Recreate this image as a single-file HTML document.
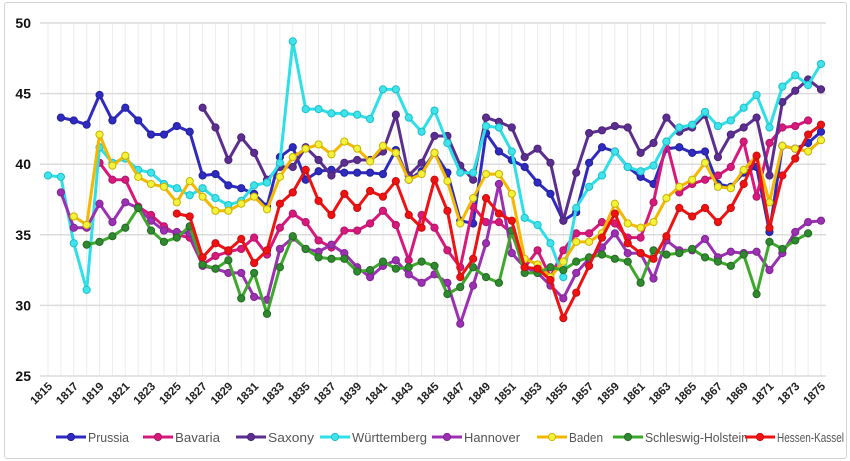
<!DOCTYPE html>
<html><head><meta charset="utf-8">
<style>
html,body{margin:0;padding:0;background:#fff;}
body{width:850px;height:461px;overflow:hidden;font-family:"Liberation Sans",sans-serif;}
#frame{position:absolute;left:4px;top:2px;width:841px;height:455px;border:1px solid #d4d4d4;border-radius:3px;}
svg{position:absolute;left:0;top:0;}
</style></head>
<body>
<div id="frame"></div>
<svg id="chart" width="850" height="461"></svg>
<script>
const years = [];
for (let y = 1815; y <= 1875; y++) years.push(y);
const yTicks = [25, 30, 35, 40, 45, 50];
const seriesNames = ["Prussia","Bavaria","Saxony","Württemberg","Hannover","Baden","Schleswig-Holstein","Hessen-Kassel"];
const N = null;
const prussia = [N,43.3,43.1,42.8,44.9,43.1,44.0,43.1,42.1,42.1,42.7,42.3,39.2,39.3,38.5,38.3,37.9,37.0,40.5,41.2,38.9,39.5,39.6,39.4,39.4,39.4,39.3,41.0,38.9,39.5,40.8,39.4,36.0,35.8,42.2,40.9,40.3,39.8,38.7,37.9,36.0,36.6,40.1,41.2,40.9,39.8,39.1,38.6,41.1,41.2,40.8,40.9,38.6,38.4,39.4,39.8,35.2,41.3,41.1,41.5,42.3];
const bavaria = [N,N,N,N,40.1,38.9,38.9,37.0,36.4,35.6,35.0,34.8,32.9,33.5,33.8,34.0,34.8,33.6,35.5,36.5,35.9,34.6,34.1,35.3,35.3,35.8,36.7,35.7,33.2,36.4,35.5,33.9,32.7,37.0,35.9,35.9,35.1,32.7,33.9,32.0,33.9,35.1,35.1,35.9,35.8,34.8,34.8,37.3,41.6,38.0,38.6,38.9,39.2,39.8,41.6,37.7,41.5,42.6,42.7,43.1,N];
const saxony = [N,N,N,N,N,N,N,N,N,N,N,N,44.0,42.6,40.3,41.9,40.8,38.9,39.8,39.8,41.2,40.3,39.2,40.1,40.3,40.3,40.9,43.5,39.2,40.1,42.0,42.0,39.9,38.9,43.3,43.0,42.6,40.5,41.1,40.1,36.0,39.4,42.2,42.4,42.7,42.6,40.8,41.5,43.3,42.3,42.6,43.5,40.5,42.1,42.6,43.3,39.2,44.4,45.2,46.0,45.3];
const wurttemberg = [39.2,39.1,34.4,31.1,41.2,40.1,40.4,39.6,39.4,38.6,38.3,37.8,38.3,37.6,37.1,37.4,38.5,38.7,40.1,48.7,43.9,43.9,43.6,43.6,43.5,43.2,45.3,45.3,43.3,42.3,43.8,41.5,39.4,39.4,42.7,42.6,40.9,36.2,35.7,34.4,32.0,36.9,38.4,39.2,40.9,39.8,39.5,39.9,41.6,42.6,42.8,43.7,42.7,43.1,44.0,44.9,42.6,45.5,46.3,45.6,47.1];
const hannover = [N,38.0,35.5,35.5,37.2,35.9,37.3,36.9,36.0,35.3,35.2,35.1,32.8,32.6,32.3,32.3,30.6,30.4,34.0,34.8,34.0,33.8,34.3,33.7,32.7,32.0,32.8,33.2,32.2,31.6,32.2,31.6,28.7,31.4,34.4,38.6,33.7,32.7,32.3,31.4,30.5,32.3,33.3,34.1,35.1,33.7,33.7,31.9,34.6,33.9,33.9,34.7,33.4,33.8,33.7,33.8,32.5,33.7,35.2,35.9,36.0];
const baden = [N,N,36.3,35.7,42.1,39.9,40.6,39.1,38.6,38.4,37.3,38.8,37.7,36.7,36.7,37.2,37.7,36.8,39.1,40.5,41.1,41.4,40.7,41.6,41.1,40.2,41.3,40.8,38.9,39.3,40.8,38.8,35.8,37.6,39.3,39.3,37.9,33.3,32.9,32.0,33.1,34.5,34.5,35.1,37.2,35.8,35.5,35.9,37.6,38.4,38.9,40.1,38.4,38.3,39.6,40.6,37.3,41.3,41.1,40.9,41.7];
const schleswig = [N,N,N,34.3,34.5,34.9,35.5,36.9,35.3,34.5,34.8,35.6,32.9,32.6,33.2,30.5,32.3,29.4,32.7,34.9,34.0,33.4,33.3,33.3,32.4,32.5,33.1,32.6,32.7,33.1,32.8,30.8,31.3,32.7,32.0,31.6,35.3,32.3,32.3,32.7,32.5,33.1,33.4,33.6,33.3,33.1,31.6,33.9,33.6,33.7,34.0,33.4,33.1,32.8,33.6,30.8,34.5,34.0,34.6,35.1,N];
const hessen = [N,N,N,N,N,N,N,N,N,N,36.5,36.3,33.4,34.4,33.9,34.7,33.0,33.9,37.2,38.0,39.6,37.4,36.4,37.9,36.9,38.1,37.7,38.8,36.4,35.5,38.9,36.7,32.0,33.3,37.6,36.5,36.0,32.7,32.6,31.8,29.1,30.9,32.8,34.8,36.5,34.4,33.7,33.3,34.9,36.9,36.3,36.9,35.9,36.9,38.6,40.6,35.5,39.2,40.4,42.1,42.8];

const seriesData = [prussia,bavaria,saxony,wurttemberg,hannover,baden,schleswig,hessen];
const lineColors = ["#2f2bc0","#d8197c","#5c2e90","#2fdfe8","#9c30b3","#f4b800","#3ea82c","#ee1212"];
const dotFill   = ["#2f2bc0","#d8197c","#5c2e90","#3fe3ea","#9c30b3","#f2f23a","#2f8a2f","#ee1212"];
const dotStroke = ["#22209a","#b01567","#4a2478","#1fbfcc","#7f2592","#c9b400","#236b22","#c80f0f"];
const slugs = ["prussia","bavaria","saxony","wurttemberg","hannover","baden","schleswig-holstein","hessen-kassel"];

const L = 48, R = 821, T = 23, B = 376;
const X = y => L + (y - 1815) * (R - L) / 60;
const Y = v => B - (v - 25) * (B - T) / 25;
const svg = document.getElementById('chart');
const NS = 'http://www.w3.org/2000/svg';
function mk(tag, attrs, parent) {
  const e = document.createElementNS(NS, tag);
  for (const k in attrs) e.setAttribute(k, attrs[k]);
  (parent || svg).appendChild(e);
  return e;
}
const grid = mk('g', {});


years.forEach(y => { mk('line', {x1:X(y), x2:X(y), y1:T, y2:B, stroke:'#ececec', 'stroke-width':1}, grid); });
yTicks.forEach(v => {
  mk('line', {x1:L-8, x2:R+5, y1:Y(v), y2:Y(v), stroke:'#dcdcdc', 'stroke-width':1.5}, grid);
  const t = mk('text', {x:31, y:Y(v)+5, 'text-anchor':'end', 'font-size':14, 'font-weight':'bold', fill:'#111'});
  t.textContent = v;
  
  
});
years.forEach((y, i) => {
  if (i % 2) return;
  const t = mk('text', {transform:`translate(${X(y)+5},${B+11}) rotate(-45)`, 'text-anchor':'end', 'font-size':11.5, 'font-weight':'bold', fill:'#222'});
  t.textContent = y;
  
  
});
seriesData.forEach((arr, s) => {
  const g = mk('g', {});
  
  
  let d = '', pen = false;
  arr.forEach((v, i) => {
    if (v === null) { pen = false; return; }
    d += (pen ? 'L' : 'M') + X(years[i]).toFixed(1) + ' ' + Y(v).toFixed(1);
    pen = true;
  });
  mk('path', {d, fill:'none', stroke:lineColors[s], 'stroke-width':3, 'stroke-linejoin':'round'}, g);
  arr.forEach((v, i) => {
    if (v === null) return;
    const c = mk('circle', {cx:X(years[i]), cy:Y(v), r:3.6, fill:dotFill[s], stroke:dotStroke[s], 'stroke-width':1}, g);
    
    
  });
});
const legendX = [56, 143, 236, 320, 432, 537, 613, 745];
const legendW = [41, 45, 46, 75, 56, 34, 103, 67];
const lg = mk('g', {});


seriesNames.forEach((n, s) => {
  const e = mk('g', {}, lg);
  
  
  const x = legendX[s], y = 437;
  mk('line', {x1:x, x2:x+30, y1:y, y2:y, stroke:lineColors[s], 'stroke-width':3}, e);
  mk('circle', {cx:x+15, cy:y, r:3.6, fill:dotFill[s], stroke:dotStroke[s], 'stroke-width':1}, e);
  const t = mk('text', {x:x+32, y:y+5, 'font-size':13, fill:'#555', textLength:legendW[s], lengthAdjust:'spacingAndGlyphs'}, e);
  t.textContent = n;
});
</script>
</body></html>
